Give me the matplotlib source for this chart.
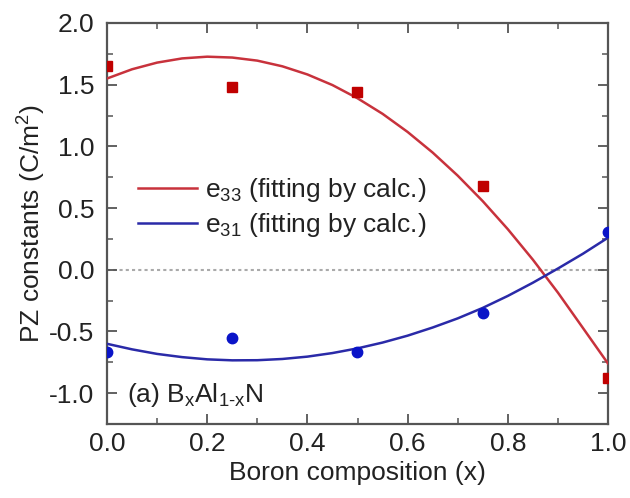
import numpy as np
import matplotlib.pyplot as plt
from matplotlib.ticker import MultipleLocator

plt.rcParams['font.family'] = ['Liberation Sans', 'DejaVu Sans']
plt.rcParams['mathtext.fontset'] = 'custom'
plt.rcParams['mathtext.rm'] = 'Liberation Sans'
plt.rcParams['mathtext.it'] = 'Liberation Sans'
plt.rcParams['axes.unicode_minus'] = False

# calculated points
x_pts = [0.0, 0.25, 0.5, 0.75, 1.0]
e33_pts = [1.65, 1.48, 1.44, 0.68, -0.88]
e31_pts = [-0.67, -0.55, -0.67, -0.35, 0.31]

# fitted curves, every 0.05
x_fit = [0.0, 0.05, 0.1, 0.15, 0.2, 0.25, 0.3, 0.35, 0.4, 0.45, 0.5,
         0.55, 0.6, 0.65, 0.7, 0.75, 0.8, 0.85, 0.9, 0.95, 1.0]
e33_fit = [1.55, 1.625, 1.679, 1.713, 1.727, 1.72, 1.695, 1.649, 1.583, 1.497, 1.39,
           1.264, 1.117, 0.95, 0.763, 0.556, 0.329, 0.082, -0.185, -0.472, -0.76]
e31_fit = [-0.60, -0.645, -0.682, -0.708, -0.726, -0.734, -0.733, -0.723, -0.704, -0.675, -0.637,
           -0.59, -0.534, -0.468, -0.394, -0.309, -0.212, -0.105, 0.01, 0.13, 0.26]

red_line = '#c8323c'
blue_line = '#2a2aa8'
red_pt = '#c00000'
blue_pt = '#0a14c8'
frame = '#555555'
txt = '#222222'

fig = plt.figure(figsize=(6.3, 4.98), dpi=100)
ax = fig.add_axes([107/630, 1-424/498, 501/630, 401/498])

ax.axhline(0, color='#aaaaaa', ls=(0, (1.5, 1.5)), lw=1.5, zorder=1)
ax.plot(x_fit, e33_fit, color=red_line, lw=1.8, label='e$_{33}$ (fitting by calc.)', zorder=3)
ax.plot(x_fit, e31_fit, color=blue_line, lw=1.8, label='e$_{31}$ (fitting by calc.)', zorder=3)
ax.plot(x_pts, e33_pts, 's', color=red_pt, ms=7, zorder=4)
ax.plot(x_pts, e31_pts, 'o', color=blue_pt, ms=7.5, zorder=4)

ax.set_xlim(0, 1.0)
ax.set_ylim(-1.25, 2.0)
ax.xaxis.set_major_locator(MultipleLocator(0.2))
ax.xaxis.set_minor_locator(MultipleLocator(0.1))
ax.yaxis.set_major_locator(MultipleLocator(0.5))
ax.yaxis.set_minor_locator(MultipleLocator(0.25))
ax.tick_params(which='both', direction='in', top=True, right=True, color=frame,
               labelsize=19, labelcolor=txt)
ax.tick_params(axis='x', pad=6)
ax.tick_params(axis='y', pad=9)
ax.tick_params(which='major', length=7, width=1.3)
ax.tick_params(which='minor', length=4, width=1.1)
for s in ax.spines.values():
    s.set_color(frame)
    s.set_linewidth(1.6)

ax.set_xlabel('Boron composition (x)', fontsize=19, color=txt, labelpad=3)
ax.set_ylabel('PZ constants (C/m$^2$)', fontsize=19, color=txt)
ax.yaxis.set_label_coords(-0.118, 0.5)

ax.legend(loc='center left', bbox_to_anchor=(0.062, 0.54), frameon=False, fontsize=19,
          borderpad=0, borderaxespad=0, handlelength=2.25, handletextpad=0.3,
          labelspacing=0.25, labelcolor=txt)
ax.text(0.04, 0.055, '(a) B$_x$Al$_{1\u2010x}$N', transform=ax.transAxes, fontsize=19,
        va='baseline', color=txt)

fig.savefig('out.png', dpi=100)
